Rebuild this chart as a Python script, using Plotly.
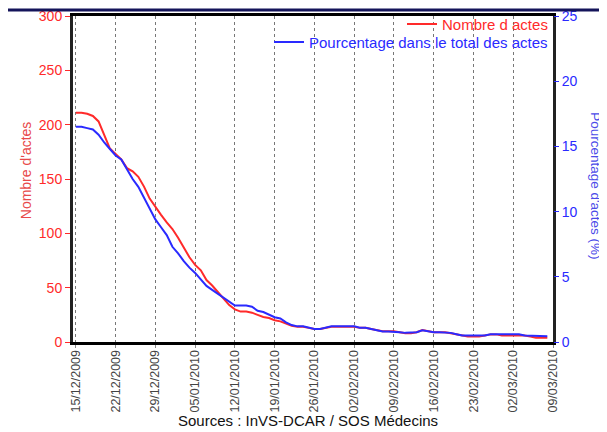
import pandas as pd
import plotly.graph_objects as go

# Daily values from 15/12/2009, one row per week
nombre_actes = [
    211, 211, 210, 208, 203, 190, 178,
    173, 168, 160, 157, 152, 143, 132,
    124, 117, 110, 104, 96, 87, 78,
    71, 66, 57, 52, 46, 40, 34,
    30, 28, 28, 27, 25, 23, 22,
    20, 19, 17, 15, 14, 14, 13,
    12, 12, 13, 14, 14, 14, 14,
    14, 13, 13, 12, 11, 10, 10,
    10, 9, 8, 8, 9, 11, 10,
    9, 9, 9, 8, 7, 6, 5,
    5, 5, 6, 7, 7, 6, 6,
    6, 6, 6, 5, 4, 4, 4,
]
pourcentage = [
    16.5, 16.5, 16.4, 16.3, 15.9, 15.3, 14.8,
    14.3, 14.0, 13.2, 12.5, 11.9, 11.1, 10.3,
    9.4, 8.8, 8.2, 7.3, 6.8, 6.2, 5.7,
    5.3, 4.8, 4.3, 4.0, 3.7, 3.4, 3.1,
    2.8, 2.8, 2.8, 2.7, 2.4, 2.3, 2.1,
    1.9, 1.8, 1.5, 1.3, 1.2, 1.2, 1.1,
    1.0, 1.0, 1.1, 1.2, 1.2, 1.2, 1.2,
    1.2, 1.1, 1.1, 1.0, 0.9, 0.8, 0.8,
    0.8, 0.75, 0.7, 0.7, 0.75, 0.9, 0.8,
    0.75, 0.75, 0.75, 0.7, 0.6, 0.5, 0.5,
    0.5, 0.5, 0.5, 0.6, 0.6, 0.6, 0.6,
    0.6, 0.6, 0.5, 0.5, 0.45, 0.45, 0.45,
]
dates = pd.date_range("2009-12-15", periods=len(nombre_actes), freq="D")
week_ticks = pd.date_range("2009-12-15", "2010-03-09", freq="7D")

RED = "#ff2a2a"
BLUE = "#2a2aff"
FONT = "Liberation Sans, Arial, sans-serif"

fig = go.Figure()
fig.add_trace(
    go.Scatter(
        x=dates, y=nombre_actes, mode="lines", name="Nombre d actes",
        line=dict(color=RED, width=2), legend="legend", showlegend=True,
    )
)
fig.add_trace(
    go.Scatter(
        x=dates, y=pourcentage, mode="lines", yaxis="y2",
        name="Pourcentage dans le total des actes",
        line=dict(color=BLUE, width=2), legend="legend2", showlegend=True,
    )
)

# the page body has an 8px margin, so the figure is 8px smaller than the window
fig.update_layout(
    width=599,
    height=424,
    margin=dict(l=65, r=54, t=8, b=90, autoexpand=False),
    paper_bgcolor="white",
    plot_bgcolor="white",
    showlegend=True,
    font=dict(family=FONT, size=14, color="#333"),
    xaxis=dict(
        range=["2009-12-14 12:00", "2010-03-09"],
        tickvals=week_ticks,
        tickformat="%d/%m/%Y",
        tickangle=-90,
        tickfont=dict(size=12.5, color="#444"),
        ticklabelstandoff=-3,
        ticklabeloverflow="allow",
        showgrid=True,
        gridcolor="#777",
        griddash="dot",
        gridwidth=1.3,
        showline=True,
        linecolor="black",
        linewidth=3,
        mirror=True,
        ticks="outside",
        ticklen=3,
        tickcolor="#888",
        zeroline=False,
    ),
    yaxis=dict(
        range=[0, 300],
        tickvals=[0, 50, 100, 150, 200, 250, 300],
        tickfont=dict(size=14, color=RED),
        ticklabeloverflow="allow",
        ticks="outside",
        ticklen=5,
        tickcolor=RED,
        showgrid=False,
        showline=True,
        linecolor="#222",
        linewidth=3,
        mirror=True,
        zeroline=False,
    ),
    yaxis2=dict(
        range=[0, 25],
        overlaying="y",
        side="right",
        tickvals=[0, 5, 10, 15, 20, 25],
        tickfont=dict(size=14, color=BLUE),
        ticklabeloverflow="allow",
        ticks="outside",
        ticklen=5,
        tickcolor=BLUE,
        showgrid=False,
        zeroline=False,
    ),
    legend=dict(
        x=1.0, y=1.025, xanchor="right", yanchor="top", visible=True,
        bgcolor="rgba(0,0,0,0)", font=dict(size=15, color=RED),
    ),
    legend2=dict(
        x=1.0, y=0.97, xanchor="right", yanchor="top", visible=True,
        bgcolor="rgba(0,0,0,0)", font=dict(size=15, color=BLUE),
    ),
    annotations=[
        dict(
            text="Nombre d'actes", xref="paper", yref="paper",
            x=-0.118, y=0.528, textangle=-90, showarrow=False,
            font=dict(size=14, color="#e84a4a"),
        ),
        dict(
            text="Pourcentage d'actes (%)", xref="paper", yref="paper",
            x=1.108, xanchor="right", y=0.48, textangle=90, showarrow=False,
            font=dict(size=13.5, color="#4a4ae8"),
        ),
        dict(
            text="Sources : InVS-DCAR / SOS Médecins", xref="paper", yref="paper",
            x=0.49, y=-0.274, yanchor="bottom", showarrow=False,
            font=dict(size=15, color="#111"),
        ),
    ],
    shapes=[
        dict(
            type="line", xref="paper", yref="paper",
            x0=-0.2, x1=1.2, y0=1.0184, y1=1.0184,
            line=dict(color="#14145a", width=3),
        )
    ],
)

fig.write_html("out.html")
